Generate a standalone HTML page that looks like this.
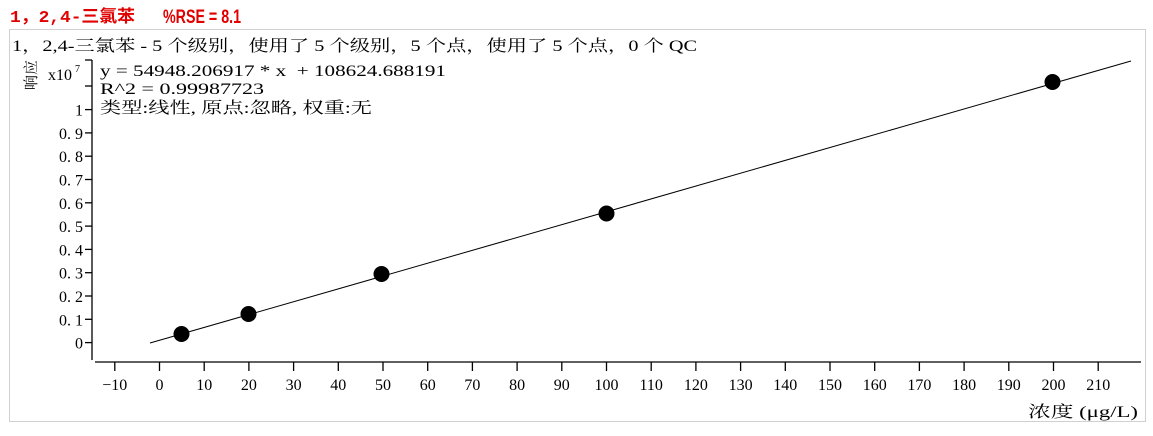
<!DOCTYPE html>
<html><head><meta charset="utf-8"><style>
body{margin:0;background:#fff;width:1153px;height:431px;overflow:hidden}
svg text{font-family:"Liberation Serif","Noto Serif CJK SC",serif;white-space:pre}
</style></head><body>
<svg width="1153" height="431" xmlns="http://www.w3.org/2000/svg">
<text x="10" y="22" font-size="17" font-weight="bold" fill="#e00000" textLength="125" lengthAdjust="spacingAndGlyphs" style="font-family:'Liberation Mono','Noto Sans CJK SC',monospace">1，2,4-三氯苯</text>
<text x="163" y="23" font-size="19" font-weight="bold" fill="#e00000" textLength="78" lengthAdjust="spacingAndGlyphs" style="font-family:'Liberation Sans',sans-serif">%RSE = 8.1</text>
<rect x="9.5" y="29.5" width="1136" height="392" fill="none" stroke="#d0d0d0"/>
<text x="12" y="51" font-size="16" fill="#000" textLength="685" lengthAdjust="spacingAndGlyphs">1，2,4-三氯苯 - 5 个级别，使用了 5 个级别，5 个点，使用了 5 个点，0 个 QC</text>
<text x="100" y="76" font-size="16" textLength="346" lengthAdjust="spacingAndGlyphs">y = 54948.206917 * x  + 108624.688191</text>
<text x="100" y="94" font-size="16" textLength="164" lengthAdjust="spacingAndGlyphs">R^2 = 0.99987723</text>
<text x="100" y="113" font-size="16" textLength="272" lengthAdjust="spacingAndGlyphs">类型:线性, 原点:忽略, 权重:无</text>
<text transform="translate(36,75) rotate(-90)" font-size="15" text-anchor="middle">响应</text>
<text x="48" y="80" font-size="16">x10</text><text x="75" y="72" font-size="10">7</text>
<g stroke="#000" stroke-width="1.3" fill="none">
<line x1="92" y1="60" x2="92" y2="360"/>
<line x1="95" y1="362" x2="1141" y2="362"/>
<line x1="85" y1="60" x2="92" y2="60"/>
<line x1="85" y1="86" x2="92" y2="86"/>
</g>
<g id="yt" font-size="16" text-anchor="end" fill="#000"></g>
<g id="xt" font-size="16" text-anchor="middle" fill="#000"></g>
<text x="1028" y="417" font-size="16" textLength="110" lengthAdjust="spacingAndGlyphs">浓度 (μg/L)</text>
<line x1="150" y1="343" x2="1131" y2="61" stroke="#000" stroke-width="1"/>
<g fill="#000">
<circle cx="181.5" cy="334" r="8"/><circle cx="248.5" cy="314" r="8"/><circle cx="381.5" cy="274" r="8"/><circle cx="606.5" cy="213.5" r="8"/><circle cx="1052.5" cy="82" r="8"/>
</g>
</svg>
<script>
var ns="http://www.w3.org/2000/svg",s=document.querySelector('svg'),yt=document.getElementById('yt'),xt=document.getElementById('xt');
for(var i=0;i<=10;i++){var y=342.6-i*23.3;var l=document.createElementNS(ns,'line');l.setAttribute('x1',85);l.setAttribute('x2',92);l.setAttribute('y1',y);l.setAttribute('y2',y);l.setAttribute('stroke','#000');l.setAttribute('stroke-width','1.3');s.appendChild(l);
var t=document.createElementNS(ns,'text');t.setAttribute('x',83);t.setAttribute('y',y+6);t.textContent=i==0?'0':(i==10?'1':'0. '+i);yt.appendChild(t);}
for(var v=-10;v<=210;v+=10){var x=159.5+v*4.47;var l=document.createElementNS(ns,'line');l.setAttribute('x1',x);l.setAttribute('x2',x);l.setAttribute('y1',362);l.setAttribute('y2',371);l.setAttribute('stroke','#000');l.setAttribute('stroke-width','1.3');s.appendChild(l);
var t=document.createElementNS(ns,'text');t.setAttribute('x',x);t.setAttribute('y',390);t.textContent=v<0?'−10':v;xt.appendChild(t);}
</script>
</body></html>
